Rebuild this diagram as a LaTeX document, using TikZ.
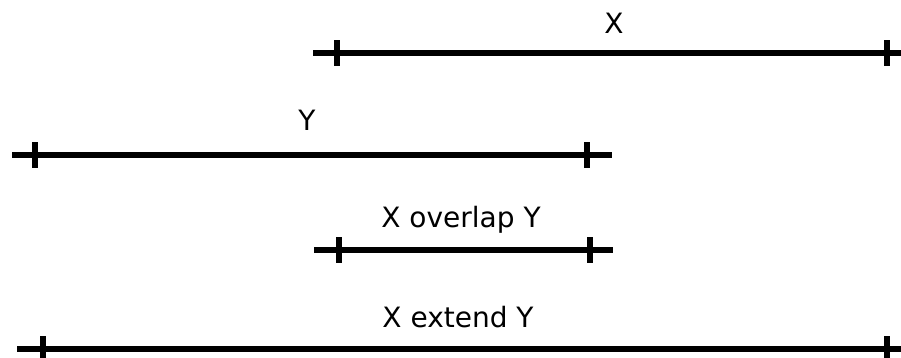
\documentclass[tikz,border=0pt]{standalone}
\usepackage{fontspec}
\setmainfont{DejaVu Sans}
\usepackage{tikz}

\tikzset{
  seg/.style={line width=5.5pt},
  tickmark/.style={fill=black,inner sep=0pt,minimum width=5.5pt,minimum height=26pt},
  lbl/.style={anchor=base,inner sep=0pt,font=\fontsize{28}{30}\selectfont}
}

\begin{document}
\begin{tikzpicture}[x=1pt,y=-1pt]
  \useasboundingbox (0,0) rectangle (901,358);
  % interval X
  \coordinate (xs) at (313,53); \coordinate (xe) at (905,53);
  \draw[seg] (xs) -- (xe);
  \node[tickmark] (xa) at (337,53) {}; \node[tickmark] (xb) at (887,53) {};
  \node[lbl] (xl) at (614,34) {X};
  % interval Y
  \coordinate (ys) at (12,155); \coordinate (ye) at (612,155);
  \draw[seg] (ys) -- (ye);
  \node[tickmark] (ya) at (35,155) {}; \node[tickmark] (yb) at (587,155) {};
  \node[lbl] (yl) at (307,131) {Y};
  % X overlap Y
  \coordinate (os) at (314,250); \coordinate (oe) at (613,250);
  \draw[seg] (os) -- (oe);
  \node[tickmark] (oa) at (339,250) {}; \node[tickmark] (ob) at (590,250) {};
  \node[lbl] (ol) at (461,227) {X overlap Y};
  % X extend Y
  \coordinate (es) at (17,349); \coordinate (ee) at (905,349);
  \draw[seg] (es) -- (ee);
  \node[tickmark] (ea) at (43,349) {}; \node[tickmark] (eb) at (887,349) {};
  \node[lbl] (el) at (458,327) {X extend Y};
\end{tikzpicture}
\end{document}
